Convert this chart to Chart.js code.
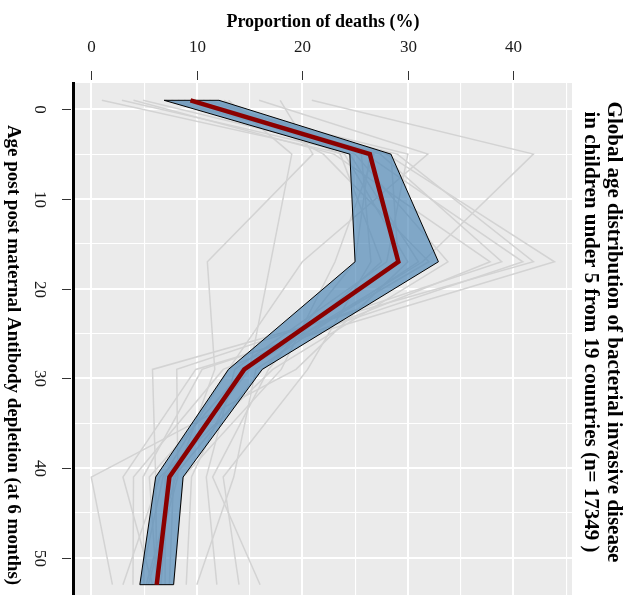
<!DOCTYPE html>
<html>
<head>
<meta charset="utf-8">
<script src="https://cdn.jsdelivr.net/npm/chart.js@4.4.1/dist/chart.umd.min.js"></script>
<style>
  html, body { margin: 0; padding: 0; background: #fff; }
  #wrap { width: 634px; height: 595px; }
</style>
</head>
<body>
<div id="wrap"><canvas id="ageChart" width="634" height="595"></canvas></div>
<script>
// age bins (months after maternal antibody depletion)
const ages = [-1, 5, 17, 29, 41, 53];

// per-country proportion of deaths (%) at each age bin
const countryValues = [
  [1.0, 24.0, 30.0, 19.4, 0.0, 2.0],
  [2.9, 25.0, 33.8, 17.2, 6.5, 3.0],
  [4.0, 23.0, 37.8, 12.5, 4.0, 3.95],
  [4.9, 26.0, 40.9, 10.5, 4.9, 5.0],
  [7.0, 28.0, 43.9, 9.9, 3.0, 5.8],
  [7.6, 27.4, 38.9, 8.1, 8.2, 5.4],
  [8.2, 29.0, 41.9, 5.8, 6.1, 6.2],
  [8.8, 26.4, 25.0, 16.8, 11.5, 16.0],
  [9.4, 25.6, 26.5, 20.5, 12.5, 14.0],
  [9.4, 30.0, 28.0, 13.6, 10.9, 11.9],
  [10.0, 24.5, 31.0, 15.6, 13.5, 10.0],
  [10.6, 28.4, 29.1, 14.2, 9.5, 9.0],
  [11.2, 26.8, 23.1, 18.0, 8.7, 7.8],
  [12.0, 23.6, 27.5, 16.2, 7.8, 7.4],
  [12.6, 22.0, 32.0, 14.5, 7.4, 6.6],
  [13.0, 19.0, 17.0, 15.0, 7.0, 7.0],
  [15.9, 31.9, 20.0, 13.0, 6.8, 4.6],
  [17.9, 21.0, 11.0, 11.7, 8.0, 5.2],
  [20.9, 41.9, 31.4, 14.5, 5.5, 6.2],
];

// summary band and central line
const bandLower = [6.9, 24.5, 25.0, 13.0, 6.1, 4.6];
const bandUpper = [12.1, 28.4, 32.9, 16.2, 8.7, 7.8];
const centralLine = [9.4, 26.4, 29.1, 14.5, 7.4, 6.2];

// tick labels
const propTicks = [0, 10, 20, 30, 40];
const ageTicks = [0, 10, 20, 30, 40, 50];

const xTitle = 'Proportion of deaths (%)';
const yTitle = 'Age post post maternal Antibody depletion (at 6 months)';
const titleLines = [
  'Global age distribution of bacterial invasive disease',
  'in children under 5 from 19 countries (n= 17349 )',
];

const SERIF = '"Liberation Serif", "DejaVu Serif", serif';

function toPoints(vals) {
  return vals.map((v, i) => ({ x: v, y: ages[i] }));
}

const bandPoints = toPoints(bandLower).concat(
  bandUpper.map((v, i) => ({ x: v, y: ages[i] })).reverse(),
  [{ x: bandLower[0], y: ages[0] }]
);

const greyDatasets = countryValues.map((vals) => ({
  data: toPoints(vals),
  borderColor: '#D3D3D3',
  borderWidth: 1.5,
  pointRadius: 0,
  showLine: true,
  fill: false,
  order: 2,
}));

function drawRotated(ctx, text, x, y, angle) {
  ctx.save();
  ctx.translate(x, y);
  ctx.rotate(angle);
  ctx.fillText(text, 0, 0);
  ctx.restore();
}

const panelPlugin = {
  id: 'panel',
  beforeDraw(chart) {
    const { ctx, chartArea: a } = chart;
    ctx.save();
    ctx.fillStyle = '#EBEBEB';
    ctx.fillRect(a.left, a.top, a.right - a.left, a.bottom - a.top);
    ctx.restore();
  },
  afterDraw(chart) {
    const ctx = chart.ctx;
    const xs = chart.scales.x;
    const ys = chart.scales.y;
    ctx.save();

    // top axis: ticks + labels
    ctx.strokeStyle = '#333';
    ctx.lineWidth = 1;
    ctx.fillStyle = '#1a1a1a';
    ctx.font = '17px ' + SERIF;
    ctx.textAlign = 'center';
    ctx.textBaseline = 'middle';
    propTicks.forEach((v) => {
      const px = Math.round(xs.getPixelForValue(v)) + 0.5;
      ctx.beginPath();
      ctx.moveTo(px, 71);
      ctx.lineTo(px, 80);
      ctx.stroke();
      ctx.fillText(String(v), px, 48);
    });

    // left axis: line, ticks, rotated labels
    ctx.fillStyle = '#000';
    ctx.fillRect(72, 82, 3, chart.height - 82);
    ctx.fillStyle = '#1a1a1a';
    ageTicks.forEach((v) => {
      const py = Math.round(ys.getPixelForValue(v)) + 0.5;
      ctx.beginPath();
      ctx.moveTo(62, py);
      ctx.lineTo(71, py);
      ctx.stroke();
      drawRotated(ctx, String(v), 39, py, Math.PI / 2);
    });

    // titles
    ctx.fillStyle = '#000';
    ctx.font = 'bold 18px ' + SERIF;
    ctx.fillText(xTitle, 323, 22);
    ctx.font = 'bold 19px ' + SERIF;
    drawRotated(ctx, yTitle, 13, 355, Math.PI / 2);
    ctx.font = 'bold 21px ' + SERIF;
    drawRotated(ctx, titleLines[0], 613, 332, Math.PI / 2);
    drawRotated(ctx, titleLines[1], 590, 332, Math.PI / 2);
    ctx.restore();
  },
};

function gridWidth(c) {
  return c.tick && c.tick.value % 10 === 0 ? 2 : 1.1;
}

new Chart(document.getElementById('ageChart').getContext('2d'), {
  type: 'scatter',
  data: {
    datasets: greyDatasets.concat([
      {
        data: bandPoints,
        borderColor: '#000',
        borderWidth: 1,
        backgroundColor: 'rgba(70, 130, 180, 0.65)',
        pointRadius: 0,
        showLine: true,
        fill: 'shape',
        order: 1,
      },
      {
        data: toPoints(centralLine),
        borderColor: '#8B0000',
        borderWidth: 4.5,
        borderCapStyle: 'butt',
        pointRadius: 0,
        showLine: true,
        fill: false,
        order: 0,
      },
    ]),
  },
  options: {
    responsive: false,
    animation: false,
    devicePixelRatio: 1,
    layout: { padding: { top: 83, left: 75, right: 62, bottom: 0 } },
    plugins: { legend: { display: false }, tooltip: { enabled: false } },
    elements: { line: { tension: 0 } },
    scales: {
      x: {
        type: 'linear',
        min: -1.545,
        max: 45.56,
        border: { display: false },
        ticks: { display: false, stepSize: 5, includeBounds: false },
        grid: { color: '#ffffff', lineWidth: gridWidth, drawTicks: false },
      },
      y: {
        type: 'linear',
        reverse: true,
        min: -2.93,
        max: 54.15,
        border: { display: false },
        ticks: { display: false, stepSize: 5, includeBounds: false },
        grid: { color: '#ffffff', lineWidth: gridWidth, drawTicks: false },
      },
    },
  },
  plugins: [panelPlugin],
});
</script>
</body>
</html>
